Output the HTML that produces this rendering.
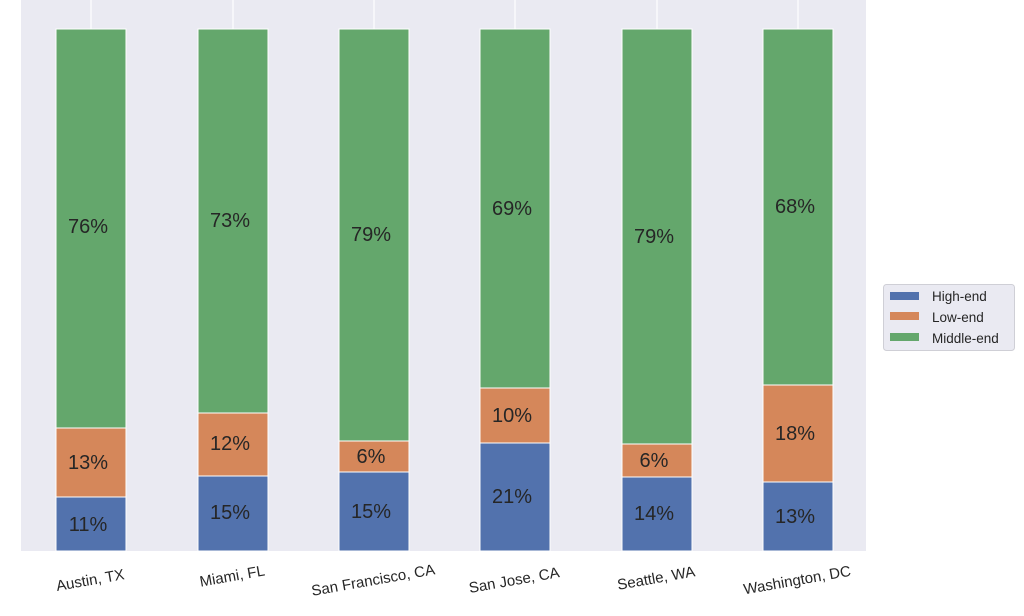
<!DOCTYPE html>
<html><head><style>body{margin:0;background:#fff}</style></head><body>
<svg width="1024" height="611" xmlns="http://www.w3.org/2000/svg" font-family="Liberation Sans, sans-serif">
<rect x="21" y="0" width="845" height="551" fill="#eaeaf2"/>
<g stroke="#fff" stroke-width="1.2">
<line x1="91" y1="0" x2="91" y2="551"/><line x1="233" y1="0" x2="233" y2="551"/><line x1="374" y1="0" x2="374" y2="551"/><line x1="515" y1="0" x2="515" y2="551"/><line x1="657" y1="0" x2="657" y2="551"/><line x1="798" y1="0" x2="798" y2="551"/>
</g>
<g stroke="#fff" stroke-width="1">
<rect x="56" y="497" width="70" height="54" fill="#5272ad"/><rect x="56" y="428" width="70" height="69" fill="#d5875a"/><rect x="56" y="29" width="70" height="399" fill="#64a76c"/>
<rect x="198" y="476" width="70" height="75" fill="#5272ad"/><rect x="198" y="413" width="70" height="63" fill="#d5875a"/><rect x="198" y="29" width="70" height="384" fill="#64a76c"/>
<rect x="339" y="472" width="70" height="79" fill="#5272ad"/><rect x="339" y="441" width="70" height="31" fill="#d5875a"/><rect x="339" y="29" width="70" height="412" fill="#64a76c"/>
<rect x="480" y="443" width="70" height="108" fill="#5272ad"/><rect x="480" y="388" width="70" height="55" fill="#d5875a"/><rect x="480" y="29" width="70" height="359" fill="#64a76c"/>
<rect x="622" y="477" width="70" height="74" fill="#5272ad"/><rect x="622" y="444" width="70" height="33" fill="#d5875a"/><rect x="622" y="29" width="70" height="415" fill="#64a76c"/>
<rect x="763" y="482" width="70" height="69" fill="#5272ad"/><rect x="763" y="385" width="70" height="97" fill="#d5875a"/><rect x="763" y="29" width="70" height="356" fill="#64a76c"/>
</g>
<g font-size="20" fill="#262626" text-anchor="middle">
<text x="88" y="531">11%</text><text x="88" y="469">13%</text><text x="88" y="233">76%</text>
<text x="230" y="519">15%</text><text x="230" y="450">12%</text><text x="230" y="227">73%</text>
<text x="371" y="518">15%</text><text x="371" y="463">6%</text><text x="371" y="241">79%</text>
<text x="512" y="503">21%</text><text x="512" y="422">10%</text><text x="512" y="215">69%</text>
<text x="654" y="520">14%</text><text x="654" y="467">6%</text><text x="654" y="243">79%</text>
<text x="795" y="523">13%</text><text x="795" y="440">18%</text><text x="795" y="213">68%</text>
</g>
<g font-size="15" fill="#262626" text-anchor="middle">
<text transform="translate(91,585) rotate(-10)">Austin, TX</text>
<text transform="translate(233,581) rotate(-10)">Miami, FL</text>
<text transform="translate(374,585) rotate(-10)">San Francisco, CA</text>
<text transform="translate(515,585) rotate(-10)">San Jose, CA</text>
<text transform="translate(657,583) rotate(-10)">Seattle, WA</text>
<text transform="translate(798,585) rotate(-10)">Washington, DC</text>
</g>
<rect x="883.5" y="284.5" width="131" height="66" rx="3" fill="#eaeaf2" stroke="#cfcfd6"/>
<rect x="890" y="292" width="29" height="8" fill="#5272ad"/>
<rect x="890" y="312" width="29" height="8" fill="#d5875a"/>
<rect x="890" y="333" width="29" height="8" fill="#64a76c"/>
<g font-size="13.5" fill="#262626">
<text x="932" y="301">High-end</text><text x="932" y="322">Low-end</text><text x="932" y="343">Middle-end</text>
</g>
</svg>
</body></html>
